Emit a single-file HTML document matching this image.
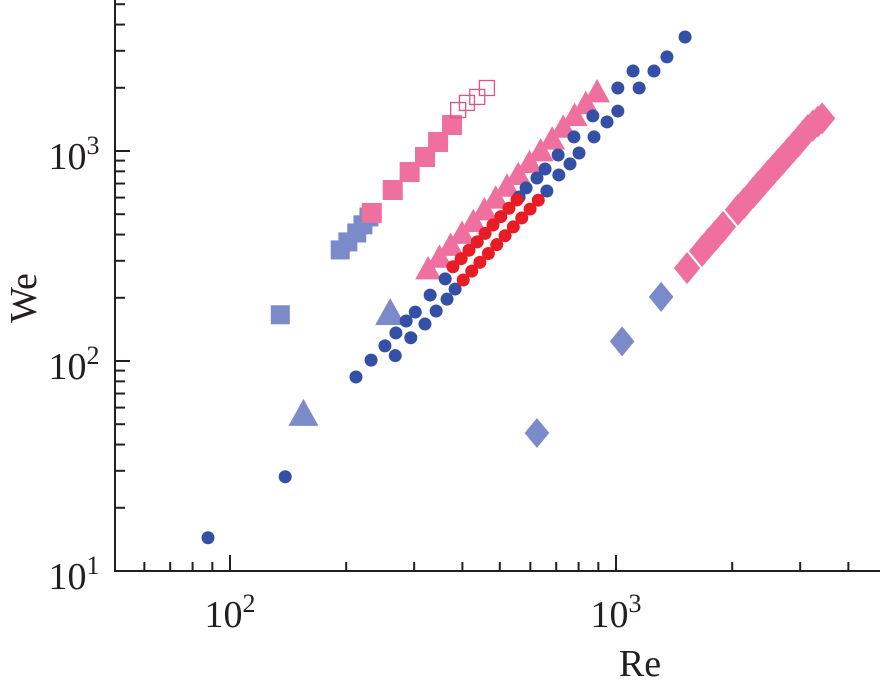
<!DOCTYPE html>
<html><head><meta charset="utf-8"><style>
html,body{margin:0;padding:0;background:#fff;}
svg{display:block;font-family:"Liberation Serif",serif;}
</style></head><body>
<svg id="chart" width="883" height="687" viewBox="0 0 883 687"></svg>
<script>
const blueCircleRe=[87.7,139,212,232,252,269,286,302,330,361,268,294,320,342,365,383,561,585,624,655,708,778,871,1011,1107,1254,1355,1510,662,711,760,802,877,948,1011,1148];
const blueCircleWe=[14.4,28.1,83.9,101,118,136,155,171,206,246,106,129,150,173,197,220,604,667,744,821,957,1167,1469,1995,2404,2404,2805,3490,645,769,868,978,1167,1375,1549,1995];
const redCircleRe=[378,397,416,437,458,480,503,528,554,402,423,444,467,491,516,542,570,599,629];
const redCircleWe=[281,307,337,369,405,444,487,534,585,243,268,295,325,358,395,435,480,529,583];
const pinkTriRe=[326,349,373,399,427,456,488,522,558,597,638,683,730,781,835,893];
const pinkTriWe=[271,308,351,400,455,518,589,671,763,869,989,1125,1281,1457,1659,1888];
const blueTriRe=[260,155];
const blueTriWe=[167,55.3];
const pinkSqRe=[233,264,292,320,346,376];
const pinkSqWe=[507,652,794,936,1104,1330];
const openSqRe=[390,411,437,463];
const openSqWe=[1567,1694,1809,1995];
const blueSqRe=[193,202,213,221,229,135];
const blueSqWe=[338,369,407,445,485,166];
const blueDiaRe=[624,1037,1309];
const blueDiaWe=[45.4,124,202];
const pinkDiaRe=[1528,1671,1742,1816,1893,2070,2147,2265,2334,2404,2477,2553,2630,2710,2793,2877,2965,3048,3141,3236,3334,3420];
const pinkDiaWe=[277,334,365,398,435,525,565,632,674,717,764,813,865,920,979,1042,1109,1180,1259,1320,1380,1430];
const xMajor=[100,1000];
const xMinor=[60,70,80,90,200,300,400,500,600,700,800,900,2000,3000,4000];
const yMajor=[10,100,1000];
const yMinor=[20,30,40,50,60,70,80,90,200,300,400,500,600,700,800,900,2000,3000,4000,5000];
const xLabels=["10","10"];const xExp=["2","3"];
const yLabels=["10","10","10"];const yExp=["1","2","3"];

const NS="http://www.w3.org/2000/svg";
const svg=document.getElementById('chart');
function X(v){return 230+386*(Math.log10(v)-2);}
function Y(v){return 571-210*(Math.log10(v)-1);}
function mk(tag,attrs,parent){const e=document.createElementNS(NS,tag);for(const k in attrs)e.setAttribute(k,attrs[k]);(parent||svg).appendChild(e);return e;}

const marks=mk('g',{});


function tri(cx,cy,s,fill,name){const h=s*0.9;const e=mk('polygon',{points:`${cx},${cy-h*0.6} ${cx-s/2},${cy+h*0.4} ${cx+s/2},${cy+h*0.4}`,fill:fill},marks);}
function sq(cx,cy,s,fill,stroke,name){const e=mk('rect',{x:cx-s/2,y:cy-s/2,width:s,height:s,fill:fill,stroke:stroke||'none','stroke-width':1.3},marks);}
function dia(cx,cy,r,fill,name){const e=mk('polygon',{points:`${cx},${cy-r} ${cx+r*0.82},${cy} ${cx},${cy+r} ${cx-r*0.82},${cy}`,fill:fill},marks);}
function circ(cx,cy,r,fill,name){const e=mk('circle',{cx:cx,cy:cy,r:r,fill:fill},marks);}

const PINK='#ef6f9f',LBLUE='#7b8bc9',DBLUE='#3350a6',RED='#e81c24';
blueSqRe.forEach((v,i)=>sq(X(v),Y(blueSqWe[i]),19,LBLUE,null,'blue-square-point'));
pinkSqRe.forEach((v,i)=>sq(X(v),Y(pinkSqWe[i]),20,PINK,null,'pink-square-point'));
openSqRe.forEach((v,i)=>sq(X(v),Y(openSqWe[i]),15,'none','#e8507f','open-square-point'));
blueTriRe.forEach((v,i)=>tri(X(v),Y(blueTriWe[i]),30,LBLUE,'blue-triangle-point'));
pinkTriRe.forEach((v,i)=>tri(X(v),Y(pinkTriWe[i]),26,PINK,'pink-triangle-point'));
pinkDiaRe.forEach((v,i)=>dia(X(v),Y(pinkDiaWe[i]),16,PINK,'pink-diamond-point'));
blueDiaRe.forEach((v,i)=>dia(X(v),Y(blueDiaWe[i]),15,LBLUE,'blue-diamond-point'));
blueCircleRe.forEach((v,i)=>circ(X(v),Y(blueCircleWe[i]),6.5,DBLUE,'blue-circle-point'));
redCircleRe.forEach((v,i)=>circ(X(v),Y(redCircleWe[i]),6.5,RED,'red-circle-point'));

const ax=mk('g',{stroke:'#231f20','stroke-width':2,fill:'none'});


mk('line',{x1:115,y1:0,x2:115,y2:572},ax);
mk('line',{x1:114,y1:571,x2:880,y2:571},ax);
xMajor.forEach(v=>mk('line',{x1:X(v),y1:571,x2:X(v),y2:555},ax));
xMinor.forEach(v=>mk('line',{x1:X(v),y1:571,x2:X(v),y2:562},ax));
yMajor.forEach(v=>mk('line',{x1:115,y1:Y(v),x2:130,y2:Y(v)},ax));
yMinor.forEach(v=>mk('line',{x1:115,y1:Y(v),x2:125,y2:Y(v)},ax));

function lab(x,y,base,exp,name){const t=mk('text',{x:x,y:y,'font-size':38,fill:'#231f20','text-anchor':'middle'});const a=mk('tspan',{},t);a.textContent=base;const b=mk('tspan',{dy:-15,'font-size':26},t);b.textContent=exp;}
xMajor.forEach((v,i)=>lab(X(v),627,xLabels[i],xExp[i],'x-tick-label'));
yMajor.forEach((v,i)=>lab(74,Y(v)+18,yLabels[i],yExp[i],'y-tick-label'));
const xt=mk('text',{x:640,y:676,'font-size':38,'text-anchor':'middle',fill:'#231f20'});


xt.textContent='Re';
const yt=mk('text',{x:0,y:0,'font-size':38,'text-anchor':'middle',fill:'#231f20',transform:'translate(36,298) rotate(-90)'});


yt.textContent='We';
</script>
</body></html>
